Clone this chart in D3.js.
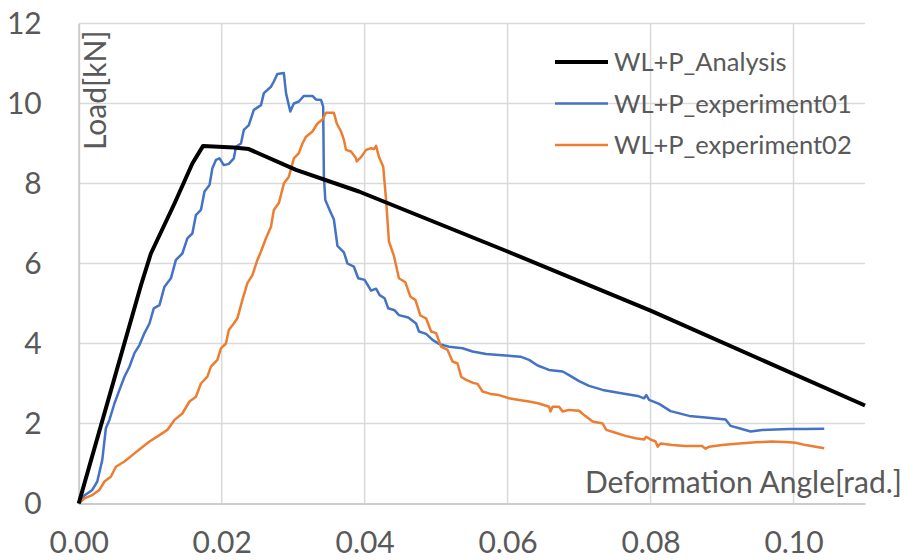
<!DOCTYPE html>
<html lang="en">

<head>
  <meta charset="UTF-8">
  <title>Load - Deformation Angle</title>
  <script src="https://d3js.org/d3.v7.min.js"></script>
  <style>
    * {
      margin: 0;
      padding: 0;
    }

    body {
      background: white;
    }

    svg {
      display: block;
      font-family: Lato, "Open Sans", sans-serif;
    }

    .tick-label {
      fill: #595959;
      font-size: 30px;
    }

    .legend-label {
      fill: #595959;
      font-size: 25.5px;
    }
  </style>
</head>

<body>
  <div class="chart"></div>
  <script>
    var width = 906;
    var height = 560;

    // series data [angle (rad), load (kN)]
    var analysis = [[0, 0], [0.0087, 5.45], [0.0101, 6.25], [0.0134, 7.5], [0.0159, 8.5], [0.0174, 8.94],
      [0.0217, 8.9], [0.0238, 8.86], [0.0252, 8.75], [0.0304, 8.34], [0.0392, 7.8], [0.06, 6.3],
      [0.08, 4.82], [0.1100, 2.45]];

    var experiment01 = [[0, 0], [0.0008, 0.2], [0.0019, 0.34], [0.0026, 0.55], [0.0033, 1.09], [0.0038, 1.88],
      [0.0043, 2.09], [0.0050, 2.5], [0.0057, 2.84], [0.0064, 3.17], [0.0071, 3.42], [0.0078, 3.76],
      [0.0085, 3.96], [0.0092, 4.26], [0.0099, 4.5], [0.0105, 4.88], [0.0113, 4.96], [0.0120, 5.42],
      [0.0129, 5.63], [0.0136, 6.09], [0.0145, 6.25], [0.0152, 6.63], [0.0159, 6.75], [0.0164, 7.21],
      [0.0171, 7.34], [0.0176, 7.8], [0.0183, 7.96], [0.0187, 8.38], [0.0192, 8.59], [0.0197, 8.63],
      [0.0203, 8.46], [0.0210, 8.49], [0.0217, 8.63], [0.0220, 8.92], [0.0227, 9.0], [0.0231, 9.34],
      [0.0238, 9.46], [0.0245, 9.84], [0.0255, 9.96], [0.0259, 10.26], [0.0269, 10.42], [0.0273, 10.55],
      [0.0278, 10.74], [0.0287, 10.76], [0.0290, 10.26], [0.0296, 9.8], [0.0301, 10.0], [0.0308, 10.05],
      [0.0315, 10.19], [0.0327, 10.19], [0.0332, 10.1], [0.0339, 10.09], [0.0342, 9.92], [0.0343, 8.17],
      [0.0345, 7.59], [0.0351, 7.34], [0.0357, 7.1], [0.0362, 6.44], [0.0371, 6.28], [0.0376, 6.0],
      [0.0385, 5.92], [0.0391, 5.63], [0.0400, 5.59], [0.0409, 5.32], [0.0416, 5.37], [0.0421, 5.21],
      [0.0428, 5.13], [0.0433, 4.88], [0.0442, 4.83], [0.0448, 4.71], [0.0461, 4.65], [0.0472, 4.5],
      [0.0476, 4.3], [0.0486, 4.24], [0.0495, 4.09], [0.0504, 3.99], [0.0518, 3.92], [0.0537, 3.88],
      [0.0551, 3.8], [0.0570, 3.74], [0.0597, 3.7], [0.0618, 3.67], [0.0630, 3.59], [0.0642, 3.45],
      [0.0658, 3.34], [0.0677, 3.3], [0.0686, 3.21], [0.0700, 3.06], [0.0714, 2.94], [0.0733, 2.84],
      [0.0761, 2.75], [0.0782, 2.69], [0.0791, 2.63], [0.0794, 2.71], [0.0798, 2.59], [0.0812, 2.49],
      [0.0828, 2.31], [0.0854, 2.19], [0.0877, 2.15], [0.0905, 2.1], [0.0912, 1.94], [0.0924, 1.88],
      [0.0940, 1.8], [0.0956, 1.84], [0.0975, 1.85], [0.0994, 1.86], [0.1017, 1.86], [0.1043, 1.87]];

    var experiment02 = [[0, 0], [0.0008, 0.13], [0.0019, 0.21], [0.0029, 0.34], [0.0036, 0.55], [0.0045, 0.67],
      [0.0052, 0.92], [0.0064, 1.05], [0.0075, 1.21], [0.0087, 1.38], [0.0099, 1.55], [0.0113, 1.71],
      [0.0124, 1.84], [0.0134, 2.09], [0.0145, 2.25], [0.0155, 2.55], [0.0164, 2.67], [0.0171, 3.0],
      [0.0180, 3.17], [0.0185, 3.42], [0.0194, 3.59], [0.0199, 3.88], [0.0206, 4.0], [0.0210, 4.34],
      [0.0217, 4.5], [0.0222, 4.63], [0.0229, 5.09], [0.0236, 5.51], [0.0243, 5.71], [0.0250, 6.09],
      [0.0255, 6.3], [0.0262, 6.63], [0.0269, 6.92], [0.0273, 7.34], [0.0280, 7.51], [0.0287, 8.0],
      [0.0294, 8.17], [0.0301, 8.63], [0.0308, 8.76], [0.0313, 9.0], [0.0318, 9.17], [0.0327, 9.3],
      [0.0334, 9.5], [0.0341, 9.6], [0.0346, 9.77], [0.0357, 9.77], [0.0361, 9.5], [0.0367, 9.3],
      [0.0371, 9.09], [0.0374, 8.84], [0.0381, 8.8], [0.0388, 8.63], [0.0389, 8.55], [0.0395, 8.66],
      [0.0402, 8.84], [0.0409, 8.88], [0.0413, 8.86], [0.0416, 8.94], [0.0420, 8.67], [0.0426, 8.42],
      [0.0430, 7.59], [0.0434, 6.55], [0.0441, 6.19], [0.0448, 5.63], [0.0457, 5.53], [0.0464, 5.17],
      [0.0471, 5.09], [0.0478, 4.7], [0.0486, 4.63], [0.0493, 4.3], [0.0500, 4.26], [0.0507, 3.92],
      [0.0516, 3.84], [0.0523, 3.55], [0.0530, 3.5], [0.0535, 3.17], [0.0542, 3.09], [0.0551, 3.02],
      [0.0558, 2.99], [0.0565, 2.8], [0.0576, 2.74], [0.0588, 2.71], [0.0602, 2.63], [0.0616, 2.59],
      [0.0630, 2.55], [0.0644, 2.5], [0.0658, 2.42], [0.0660, 2.3], [0.0663, 2.42], [0.0672, 2.42],
      [0.0677, 2.3], [0.0686, 2.34], [0.0700, 2.32], [0.0707, 2.21], [0.0719, 2.05], [0.0733, 2.0],
      [0.0738, 1.84], [0.0751, 1.77], [0.0765, 1.69], [0.0779, 1.63], [0.0791, 1.6], [0.0794, 1.67],
      [0.0800, 1.6], [0.0807, 1.55], [0.0810, 1.42], [0.0814, 1.5], [0.0830, 1.46], [0.0849, 1.44],
      [0.0872, 1.44], [0.0877, 1.37], [0.0882, 1.42], [0.0900, 1.46], [0.0924, 1.5], [0.0947, 1.53],
      [0.0970, 1.55], [0.0994, 1.53], [0.1003, 1.52], [0.1017, 1.46], [0.1031, 1.42], [0.1043, 1.38]];

    var seriesNames = ['WL+P_Analysis', 'WL+P_experiment01', 'WL+P_experiment02'];
    var seriesColors = ['#000000', '#4472C4', '#ED7D31'];
    var seriesWidths = [4, 2.5, 2.5];
    var xTicks = [0, 0.02, 0.04, 0.06, 0.08, 0.10];
    var yTicks = [0, 2, 4, 6, 8, 10, 12];
    var xTitle = 'Deformation Angle[rad.]';
    var yTitle = 'Load[kN]';

    var svg = d3.select('.chart')
      .append('svg')
      .attr('width', width)
      .attr('height', height);

    // scales
    var xScale = d3.scaleLinear()
      .domain([0, 0.11])
      .range([78.7, 865]);
    var yScale = d3.scaleLinear()
      .domain([0, 12])
      .range([503.5, 23.5]);

    // gridlines
    svg.append('g')
      .selectAll('line')
      .data(yTicks.slice(1))
      .enter()
      .append('line')
      .attr('x1', xScale(0))
      .attr('x2', xScale(0.11))
      .attr('y1', function (d) { return yScale(d); })
      .attr('y2', function (d) { return yScale(d); })
      .attr('stroke', '#d9d9d9')
      .attr('stroke-width', 1.5);

    svg.append('g')
      .selectAll('line')
      .data(xTicks.slice(1))
      .enter()
      .append('line')
      .attr('x1', function (d) { return xScale(d); })
      .attr('x2', function (d) { return xScale(d); })
      .attr('y1', yScale(0))
      .attr('y2', yScale(12))
      .attr('stroke', '#d9d9d9')
      .attr('stroke-width', 1.5);

    // axes, labels drawn by d3 axis then restyled
    var xAxis = d3.axisBottom(xScale)
      .tickValues(xTicks)
      .tickSize(0)
      .tickPadding(28)
      .tickFormat(d3.format('.2f'));
    var yAxis = d3.axisLeft(yScale)
      .tickValues(yTicks)
      .tickSize(0)
      .tickPadding(37)
      .tickFormat(d3.format('d'));

    var gx = svg.append('g')
      .attr('transform', 'translate(0,' + yScale(0) + ')')
      .call(xAxis);
    var gy = svg.append('g')
      .attr('transform', 'translate(' + xScale(0) + ',0)')
      .call(yAxis);

    [gx, gy].forEach(function (g) {
      g.select('.domain')
        .attr('stroke', '#cccccc')
        .attr('stroke-width', 2);
      g.selectAll('text')
        .attr('class', 'tick-label')
        .attr('fill', null)
        .style('font-size', null);
      g.attr('font-family', null).attr('font-size', null);
    });

    // axis titles
    svg.append('text')
      .attr('class', 'tick-label')
      .attr('x', 902)
      .attr('y', 493)
      .attr('text-anchor', 'end')
      .text(xTitle);

    svg.append('text')
      .attr('class', 'tick-label')
      .attr('transform', 'translate(106,150) rotate(-90)')
      .text(yTitle);

    // lines
    var linePath = d3.line()
      .x(function (d) { return xScale(d[0]); })
      .y(function (d) { return yScale(d[1]); });

    var allSeries = [analysis, experiment01, experiment02];
    var drawOrder = [1, 2, 0];

    svg.append('g')
      .selectAll('path')
      .data(drawOrder)
      .enter()
      .append('path')
      .attr('d', function (i) { return linePath(allSeries[i]); })
      .attr('fill', 'none')
      .attr('stroke', function (i) { return seriesColors[i]; })
      .attr('stroke-width', function (i) { return seriesWidths[i]; })
      .attr('stroke-linejoin', 'round');

    // legend
    var legend = svg.append('g')
      .selectAll('g')
      .data(seriesNames)
      .enter()
      .append('g')
      .attr('transform', function (d, i) {
        return 'translate(555,' + (62 + i * 41.5) + ')';
      });

    legend.append('line')
      .attr('x1', 0)
      .attr('x2', 53)
      .attr('stroke', function (d, i) { return seriesColors[i]; })
      .attr('stroke-width', function (d, i) { return seriesWidths[i]; });

    legend.append('text')
      .attr('class', 'legend-label')
      .attr('x', 59)
      .attr('y', 9)
      .text(function (d) { return d; });
  </script>

</body>

</html>
